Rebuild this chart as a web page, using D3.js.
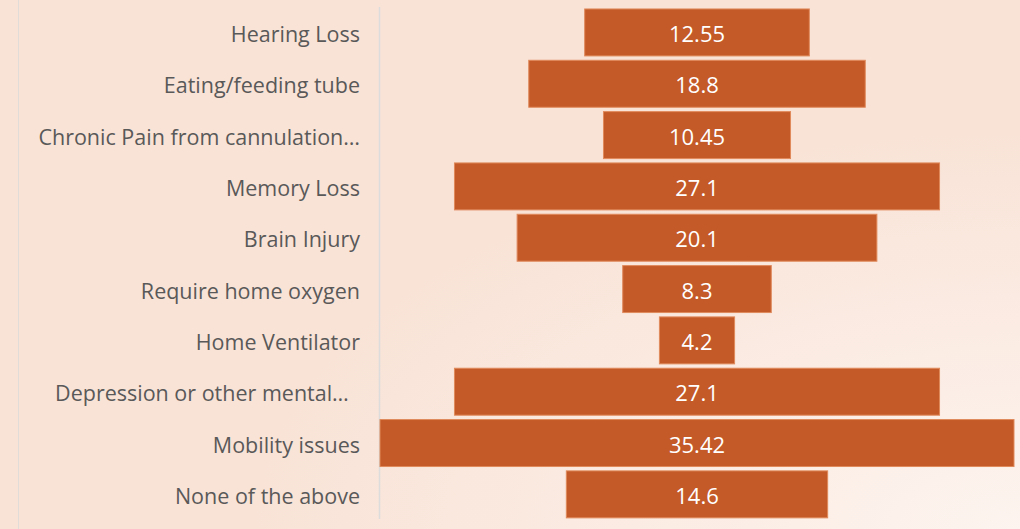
<!DOCTYPE html>
<html>
<head>
<meta charset="utf-8">
<script src="https://cdn.jsdelivr.net/npm/d3@7"></script>
<style>
  html, body { margin: 0; padding: 0; }
  body { width: 1020px; height: 529px; overflow: hidden; }
</style>
</head>
<body>
<div id="chart"></div>
<script>
/* data */
var categories = ["Hearing Loss", "Eating/feeding tube", "Chronic Pain from cannulation\u2026",
                  "Memory Loss", "Brain Injury", "Require home oxygen", "Home Ventilator",
                  "Depression or other mental\u2026\u00A0\u00A0", "Mobility issues", "None of the above"];
var values = [12.55, 18.8, 10.45, 27.1, 20.1, 8.3, 4.2, 27.1, 35.42, 14.6];
var valueLabels = ["12.55", "18.8", "10.45", "27.1", "20.1", "8.3", "4.2", "27.1", "35.42", "14.6"];

var W = 1020, H = 529;
var svg = d3.select("#chart").append("svg")
            .attr("width", W).attr("height", H)
            .style("font-family", "'Open Sans', sans-serif");

// background
var defs = svg.append("defs");
var grad = defs.append("radialGradient").attr("id", "bg")
               .attr("cx", 1).attr("cy", 1).attr("r", 0.75);
grad.append("stop").attr("offset", 0).attr("stop-color", "#fdf4ef");
grad.append("stop").attr("offset", 1).attr("stop-color", "#f9e3d7");
svg.append("rect").attr("width", W).attr("height", H).attr("fill", "url(#bg)");

svg.append("line").attr("x1", 18.5).attr("x2", 18.5).attr("y1", 0).attr("y2", H)
   .attr("stroke", "#e2dcd8").attr("stroke-width", 1);

var axisX = 379.5, center = 697;
var y = d3.scaleBand().domain(categories).range([6.8, 520]).paddingInner(0.085).paddingOuter(0.042);
var w = d3.scaleLinear().domain([0, 35.42]).range([0, 634]);

// axis line
svg.append("line").attr("x1", axisX).attr("x2", axisX).attr("y1", 7).attr("y2", 519)
   .attr("stroke", "#dcdcdc").attr("stroke-width", 1.5);

// category labels
svg.selectAll("text.cat").data(categories).enter().append("text")
   .attr("class", "cat")
   .attr("x", 360)
   .attr("y", function(d){ return y(d) + y.bandwidth()/2 + 2; })
   .attr("dy", "0.35em")
   .attr("text-anchor", "end")
   .attr("fill", "#595959")
   .attr("font-size", "21.5px")
   .style("white-space", "pre")
   .text(function(d){ return d; });

// bars
svg.selectAll("rect.bar").data(values).enter().append("rect")
   .attr("class", "bar")
   .attr("x", function(d){ return center - w(d)/2; })
   .attr("y", function(d, i){ return y(categories[i]); })
   .attr("width", function(d){ return w(d); })
   .attr("height", y.bandwidth())
   .attr("fill", "#c45a27")
   .attr("stroke", "#e08a5c")
   .attr("stroke-width", 1);

// value labels
svg.selectAll("text.val").data(values).enter().append("text")
   .attr("class", "val")
   .attr("x", center)
   .attr("y", function(d, i){ return y(categories[i]) + y.bandwidth()/2 + 2; })
   .attr("dy", "0.35em")
   .attr("text-anchor", "middle")
   .attr("fill", "#ffffff")
   .attr("font-size", "22px")
   .text(function(d, i){ return valueLabels[i]; });
</script>
</body>
</html>
